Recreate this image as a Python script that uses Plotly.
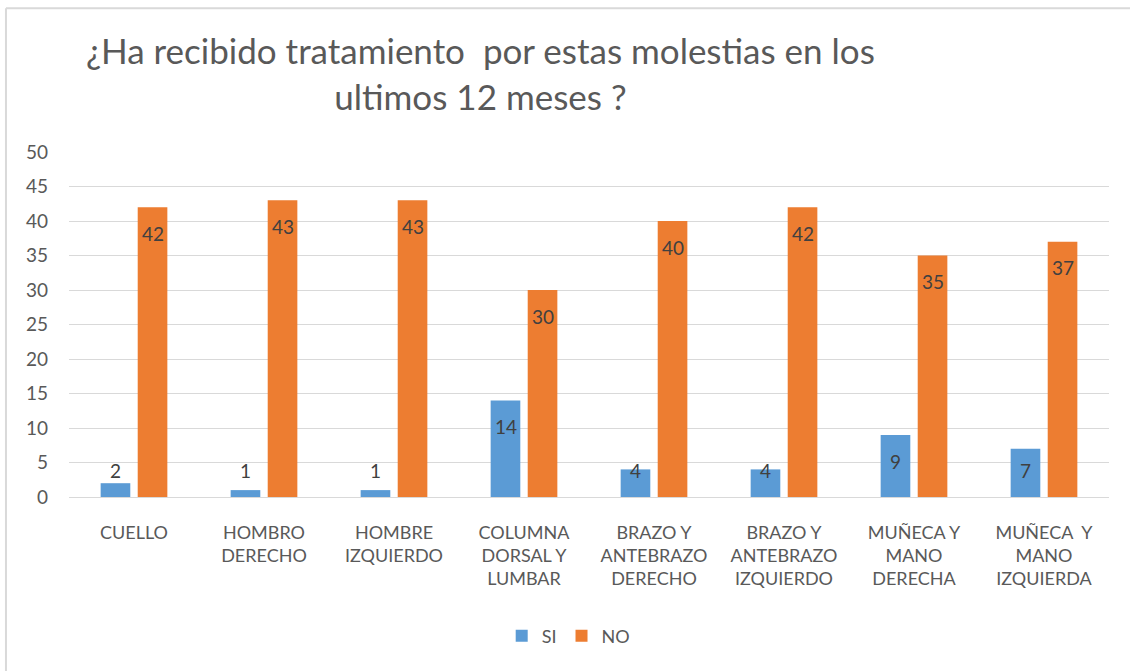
import plotly.graph_objects as go

categories = [
    "CUELLO",
    "HOMBRO<br>DERECHO",
    "HOMBRE<br>IZQUIERDO",
    "COLUMNA<br>DORSAL Y<br>LUMBAR",
    "BRAZO Y<br>ANTEBRAZO<br>DERECHO",
    "BRAZO Y<br>ANTEBRAZO<br>IZQUIERDO",
    "MUÑECA Y<br>MANO<br>DERECHA",
    "MUÑECA  Y<br>MANO<br>IZQUIERDA",
]
si_values = [2, 1, 1, 14, 4, 4, 9, 7]
no_values = [42, 43, 43, 30, 40, 42, 35, 37]

BLUE = "#5B9BD5"
ORANGE = "#ED7D31"
GRID = "#d9d9d9"
TEXT = "#595959"
FONT = "Lato"

fig = go.Figure()

fig.add_trace(go.Bar(
    x=categories, y=si_values, name="SI",
    marker=dict(color=BLUE, line=dict(width=0)),
    hoverinfo="x+y",
))
fig.add_trace(go.Bar(
    x=categories, y=no_values, name="NO",
    marker=dict(color=ORANGE, line=dict(width=0)),
    hoverinfo="x+y",
))

# data labels sit a bit below the bar top, but never lower than ~3.8
def label_y(v):
    return max(v - 3.8, 3.8)

for series, shift in ((si_values, -18.5), (no_values, 18.5)):
    for cat, v in zip(categories, series):
        fig.add_annotation(
            x=cat, y=label_y(v), xref="x", yref="y",
            text=str(v), showarrow=False, xshift=shift,
            font=dict(family=FONT, size=19, color="#404040"),
        )

# title (two centred lines)
fig.add_annotation(
    text="¿Ha recibido tratamiento \u00a0por estas molestias en los<br>ultimos 12 meses ?",
    xref="paper", yref="paper", x=0.396, y=1.228,
    xanchor="center", yanchor="middle", align="center", showarrow=False,
    font=dict(family=FONT, size=35, color=TEXT),
)

# chart frame (only the top and left edges show in the screenshot)
fig.add_shape(type="line", xref="paper", yref="paper",
              x0=-0.0606, x1=1.05, y0=1.417, y1=1.417,
              line=dict(color=GRID, width=2))
fig.add_shape(type="line", xref="paper", yref="paper",
              x0=-0.0606, x1=-0.0606, y0=1.417, y1=-0.6,
              line=dict(color=GRID, width=2))

fig.update_layout(
    width=1130, height=671,
    margin=dict(l=69, r=21, t=152, b=174),
    paper_bgcolor="white",
    plot_bgcolor="white",
    barmode="group",
    bargap=0.43,
    bargroupgap=0.2,
    font=dict(family=FONT, color=TEXT),
    showlegend=True,
    legend=dict(
        orientation="h", x=0.48, xanchor="center", y=-0.403, yanchor="middle",
        font=dict(family=FONT, size=18, color=TEXT),
        itemwidth=30,
    ),
    xaxis=dict(
        showgrid=False, showline=True, linecolor=GRID, linewidth=1,
        ticks="", tickfont=dict(family=FONT, size=18, color=TEXT),
        ticklabelstandoff=19,
        fixedrange=True,
    ),
    yaxis=dict(
        range=[0, 50], dtick=5, showgrid=True, gridcolor=GRID, gridwidth=1,
        zeroline=False, ticks="", showline=False,
        tickfont=dict(family=FONT, size=19, color=TEXT),
        ticklabelstandoff=20,
        fixedrange=True,
    ),
)

# drop the default page margin so the figure sits flush in the window
fig.write_html(
    "out.html",
    config={"displayModeBar": False},
    post_script="document.body.style.margin='0';document.body.style.overflow='hidden';",
)
